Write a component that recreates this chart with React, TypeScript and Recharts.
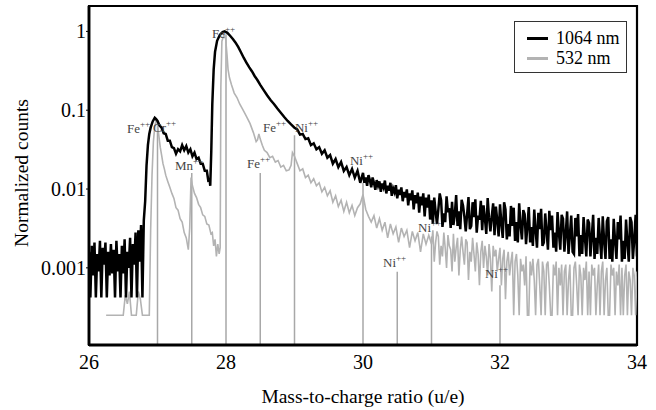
import React from 'react';
import { LineChart, Line, XAxis, YAxis, Legend, ReferenceArea } from 'recharts';

const FONT = "'Liberation Serif', serif";
const fontStyle = { fontFamily: FONT };

const massTicks = [26, 28, 30, 32, 34];
const countTicks = [0.001, 0.01, 0.1, 1];
const countTickLabels = ['0.001', '0.01', '0.1', '1'];
const yMin = 1.05e-4;
const yMax = 2.1;

const spectrum1064: [number, number][] = [
  [26.00,0.0016],[26.02,0.00042],[26.04,0.0019],[26.06,0.0008],[26.08,0.0021],[26.10,0.00042],
  [26.12,0.0015],[26.14,0.0009],[26.16,0.0022],[26.18,0.00042],[26.20,0.0018],[26.22,0.0011],
  [26.24,0.0021],[26.26,0.00042],[26.28,0.0016],[26.30,0.0008],[26.32,0.0020],[26.34,0.00085],
  [26.36,0.0017],[26.38,0.00042],[26.40,0.0022],[26.42,0.0009],[26.44,0.0015],[26.46,0.00042],
  [26.48,0.0019],[26.50,0.00085],[26.52,0.0023],[26.54,0.00042],[26.56,0.0016],[26.58,0.0010],
  [26.60,0.0024],[26.62,0.00042],[26.64,0.0020],[26.66,0.0011],[26.68,0.0028],[26.70,0.00042],
  [26.72,0.0030],[26.74,0.0012],[26.76,0.0035],[26.78,0.00042],[26.80,0.0040],
  [26.82,0.007],[26.84,0.02],[26.86,0.036],[26.88,0.05],[26.90,0.06],[26.93,0.072],[26.96,0.08],
  [26.98,0.077],[27.00,0.073],[27.03,0.064],[27.06,0.06],[27.09,0.051],[27.12,0.05],[27.15,0.041],
  [27.18,0.041],[27.21,0.034],[27.24,0.033],[27.27,0.028],[27.30,0.032],[27.33,0.03],[27.36,0.036],
  [27.39,0.031],[27.42,0.035],[27.45,0.029],[27.48,0.032],[27.51,0.026],[27.54,0.029],[27.57,0.024],
  [27.60,0.025],[27.63,0.021],[27.66,0.021],[27.69,0.017],[27.72,0.017],[27.74,0.013],[27.76,0.0135],
  [27.77,0.011],[27.785,0.03],[27.80,0.12],[27.82,0.33],[27.84,0.55],[27.87,0.76],[27.91,0.9],
  [27.95,0.98],[27.98,1.0],[28.02,0.96],[28.06,0.88],[28.10,0.8],[28.14,0.72],[28.18,0.63],
  [28.22,0.54],[28.26,0.46],[28.30,0.4],[28.34,0.35],[28.38,0.31],[28.42,0.27],[28.46,0.24],
  [28.50,0.21],[28.55,0.18],[28.60,0.155],[28.65,0.135],[28.70,0.12],[28.75,0.105],[28.80,0.093],
  [28.85,0.082],[28.90,0.073],[28.95,0.066],[29.00,0.06],
  [29.04,0.057],[29.08,0.049],[29.12,0.05],[29.16,0.043],[29.20,0.044],[29.24,0.036],[29.28,0.038],
  [29.32,0.032],[29.36,0.034],[29.40,0.028],[29.44,0.031],[29.48,0.025],[29.52,0.027],[29.56,0.021],
  [29.60,0.024],[29.64,0.019],[29.68,0.022],[29.72,0.017],[29.76,0.019],[29.80,0.015],[29.84,0.018],
  [29.88,0.014],[29.92,0.017],[29.96,0.012],
  [30.00,0.016],[30.02,0.012],[30.04,0.014],[30.06,0.011],[30.08,0.015],[30.10,0.013],[30.12,0.0105],
  [30.14,0.014],[30.16,0.012],[30.18,0.0098],[30.20,0.013],[30.22,0.011],[30.24,0.0125],[30.26,0.0092],
  [30.28,0.0118],[30.30,0.0105],[30.32,0.0128],[30.34,0.0088],[30.36,0.011],[30.38,0.0095],[30.40,0.012],
  [30.42,0.0082],[30.44,0.0102],[30.46,0.0091],[30.48,0.0112],[30.50,0.0076],[30.52,0.0098],[30.54,0.0084],
  [30.56,0.0105],[30.58,0.007],[30.60,0.0092],[30.62,0.0078],[30.64,0.0099],[30.66,0.0062],[30.68,0.0088],
  [30.70,0.0072],[30.72,0.0096],[30.74,0.0055],[30.76,0.0084],[30.78,0.0066],[30.80,0.009],[30.82,0.005],
  [30.84,0.008],[30.86,0.0062],[30.88,0.0088],[30.90,0.0045],[30.92,0.0078],[30.94,0.0058],[30.96,0.0085],
  [30.98,0.0041],[31.00,0.0072],
  [31.02,0.0036],[31.04,0.0078],[31.06,0.0052],[31.08,0.0036],[31.10,0.0055],[31.12,0.0088],[31.14,0.0072],
  [31.16,0.0033],[31.18,0.0049],[31.20,0.0038],[31.22,0.0081],[31.24,0.0051],[31.26,0.0057],[31.28,0.0032],
  [31.30,0.0069],[31.32,0.0035],[31.34,0.0047],[31.36,0.0084],[31.38,0.0034],[31.40,0.0052],[31.42,0.0031],
  [31.44,0.0073],[31.46,0.0062],[31.48,0.0045],[31.50,0.0029],[31.52,0.0048],[31.54,0.0079],[31.56,0.0031],
  [31.58,0.0034],[31.60,0.0068],[31.62,0.0044],[31.64,0.0074],[31.66,0.0028],[31.68,0.0046],[31.70,0.0041],
  [31.72,0.0071],[31.74,0.003],[31.76,0.0062],[31.78,0.0042],[31.80,0.0027],[31.82,0.0077],[31.84,0.0043],
  [31.86,0.0029],[31.88,0.0045],[31.90,0.0066],[31.92,0.0026],[31.94,0.006],[31.96,0.004],[31.98,0.0025],
  [32.00,0.0064],[32.02,0.0037],[32.04,0.0024],[32.06,0.0068],[32.08,0.0055],[32.10,0.0023],[32.12,0.0036],
  [32.14,0.0025],[32.16,0.0061],[32.18,0.0034],[32.20,0.0058],[32.22,0.0022],[32.24,0.0038],[32.26,0.0021],
  [32.28,0.0066],[32.30,0.0035],[32.32,0.0023],[32.34,0.0054],[32.36,0.0048],[32.38,0.002],[32.40,0.0034],
  [32.42,0.0059],[32.44,0.0021],[32.46,0.0033],[32.48,0.0019],[32.50,0.0055],[32.52,0.003],[32.54,0.0018],
  [32.56,0.005],[32.58,0.0031],[32.60,0.0056],[32.62,0.0019],[32.64,0.0021],[32.66,0.0049],[32.68,0.0029],
  [32.70,0.0017],[32.72,0.0053],[32.74,0.003],[32.76,0.0046],[32.78,0.0018],[32.80,0.0028],[32.82,0.0016],
  [32.84,0.0051],[32.86,0.0028],[32.88,0.0017],[32.90,0.0047],[32.92,0.0042],[32.94,0.0016],[32.96,0.0027],
  [32.98,0.0052],[33.00,0.0015],[33.02,0.0026],[33.04,0.0046],[33.06,0.0016],[33.08,0.0015],[33.10,0.0043],
  [33.12,0.0025],[33.14,0.0048],[33.16,0.0014],[33.18,0.0026],[33.20,0.0015],[33.22,0.0044],[33.24,0.0024],
  [33.26,0.0014],[33.28,0.0041],[33.30,0.0037],[33.32,0.0014],[33.34,0.0025],[33.36,0.0047],[33.38,0.0013],
  [33.40,0.0024],[33.42,0.0015],[33.44,0.0043],[33.46,0.0023],[33.48,0.0013],[33.50,0.0045],[33.52,0.0022],
  [33.54,0.0013],[33.56,0.0039],[33.58,0.0044],[33.60,0.0013],[33.62,0.0023],[33.64,0.0012],[33.66,0.0042],
  [33.68,0.0022],[33.70,0.0013],[33.72,0.0038],[33.74,0.0023],[33.76,0.0046],[33.78,0.0012],[33.80,0.0022],
  [33.82,0.0013],[33.84,0.0041],[33.86,0.0021],[33.88,0.0012],[33.90,0.0044],[33.92,0.0038],[33.94,0.0013],
  [33.96,0.0023],[33.98,0.0047],[34.00,0.0014],
];

const spectrum532: [number, number][] = [
  [26.25,0.00025],[26.50,0.00025],[26.53,0.00045],[26.56,0.00035],[26.59,0.0005],[26.62,0.00025],
  [26.69,0.00025],[26.72,0.0005],[26.75,0.0004],[26.78,0.00025],[26.88,0.00025],[26.90,0.003],
  [26.92,0.015],[26.94,0.04],[26.96,0.062],[26.98,0.075],[27.00,0.068],[27.02,0.047],[27.04,0.034],
  [27.06,0.027],[27.08,0.021],[27.10,0.018],[27.12,0.015],[27.15,0.0125],[27.18,0.0105],[27.21,0.0088],
  [27.24,0.0076],[27.27,0.0058],[27.30,0.0054],[27.33,0.0042],[27.36,0.0038],[27.39,0.0028],[27.42,0.0024],
  [27.45,0.0017],[27.47,0.0032],[27.49,0.014],[27.51,0.011],[27.54,0.0088],[27.57,0.0078],[27.60,0.0064],
  [27.63,0.0058],[27.66,0.0047],[27.69,0.0045],[27.72,0.0036],[27.75,0.0035],[27.78,0.0027],[27.80,0.0028],
  [27.82,0.0019],[27.84,0.0023],[27.86,0.0014],[27.88,0.002],[27.90,0.0015],[27.915,0.0018],[27.925,0.2],
  [27.94,0.75],[27.97,0.9],[27.995,0.8],[28.015,0.5],[28.03,0.33],[28.05,0.26],[28.08,0.21],[28.12,0.165],
  [28.16,0.145],[28.20,0.12],[28.25,0.1],[28.30,0.083],[28.35,0.068],[28.40,0.052],[28.44,0.04],
  [28.46,0.042],[28.48,0.05],[28.50,0.043],[28.53,0.036],[28.56,0.031],[28.60,0.029],[28.64,0.025],
  [28.68,0.026],[28.72,0.022],[28.76,0.023],[28.80,0.019],[28.84,0.02],[28.88,0.017],[28.92,0.0175],
  [28.95,0.02],[28.97,0.029],[29.00,0.026],
  [29.04,0.021],[29.08,0.017],[29.12,0.018],[29.16,0.014],[29.20,0.015],[29.24,0.012],[29.28,0.0135],
  [29.32,0.011],[29.36,0.012],[29.40,0.0092],[29.44,0.0105],[29.48,0.0082],[29.52,0.0095],[29.56,0.0068],
  [29.60,0.0082],[29.64,0.006],[29.68,0.0072],[29.72,0.0052],[29.76,0.0068],[29.80,0.005],[29.84,0.0062],
  [29.88,0.0046],[29.92,0.0058],[29.96,0.0065],[30.00,0.0085],[30.04,0.0055],[30.08,0.0045],[30.12,0.0038],
  [30.16,0.0046],[30.20,0.0032],[30.24,0.0042],[30.28,0.003],[30.32,0.0038],[30.36,0.0024],[30.40,0.0036],
  [30.44,0.0027],[30.48,0.0033],[30.52,0.0021],[30.56,0.0032],[30.60,0.0025],[30.64,0.003],[30.68,0.0018],
  [30.72,0.0029],[30.76,0.0022],[30.80,0.0028],[30.84,0.0016],[30.88,0.0027],[30.92,0.002],[30.96,0.0026],
  [31.00,0.002],[31.02,0.003],[31.04,0.0012],[31.06,0.0021],[31.08,0.0029],[31.10,0.0025],[31.12,0.0011],
  [31.14,0.0019],[31.16,0.0014],[31.18,0.0028],[31.20,0.0018],[31.22,0.001],[31.24,0.0026],[31.26,0.0019],
  [31.28,0.0017],[31.30,0.0009],[31.32,0.0027],[31.34,0.0012],[31.36,0.0018],[31.38,0.0024],[31.40,0.0008],
  [31.42,0.0017],[31.44,0.0025],[31.46,0.0016],[31.48,0.0011],[31.50,0.0023],[31.52,0.0021],[31.54,0.0007],
  [31.56,0.0016],[31.58,0.0012],[31.60,0.0024],[31.62,0.0015],[31.64,0.0009],[31.66,0.0021],[31.68,0.0015],
  [31.70,0.0006],[31.72,0.0016],[31.74,0.0022],[31.76,0.001],[31.78,0.0019],[31.80,0.0014],[31.82,0.0008],
  [31.84,0.002],[31.86,0.0013],[31.88,0.0005],[31.90,0.0019],[31.92,0.0014],[31.94,0.0017],[31.96,0.0009],
  [31.98,0.0013],[32.00,0.0018],[32.02,0.0006],[32.04,0.0013],[32.06,0.0017],[32.08,0.0004],[32.10,0.0012],
  [32.12,0.0016],[32.14,0.0008],[32.16,0.0012],[32.18,0.0016],[32.20,0.00025],
  [32.22,0.0012],[32.24,0.0015],[32.26,0.0008],[32.28,0.00025],[32.30,0.0013],[32.32,0.0009],[32.34,0.0011],
  [32.36,0.0006],[32.38,0.0014],[32.40,0.00025],[32.42,0.00025],[32.44,0.0012],[32.46,0.0008],[32.48,0.0013],
  [32.50,0.0007],[32.52,0.00025],[32.54,0.0011],[32.56,0.0013],[32.58,0.0006],[32.60,0.00025],[32.62,0.0012],
  [32.64,0.0009],[32.66,0.00025],[32.68,0.0011],[32.70,0.0012],[32.72,0.0006],[32.74,0.00025],[32.76,0.00025],
  [32.78,0.0011],[32.80,0.0008],[32.82,0.0012],[32.84,0.00025],[32.86,0.001],[32.88,0.0006],[32.90,0.0011],
  [32.92,0.00025],[32.94,0.0009],[32.96,0.0011],[32.98,0.00025],[33.00,0.0007],[33.02,0.0011],[33.04,0.00025],
  [33.06,0.00025],[33.08,0.001],[33.10,0.0012],[33.12,0.0006],[33.14,0.00025],[33.16,0.0011],[33.18,0.0008],
  [33.20,0.00025],[33.22,0.001],[33.24,0.0007],[33.26,0.0012],[33.28,0.00025],[33.30,0.0009],[33.32,0.00025],
  [33.34,0.0011],[33.36,0.0008],[33.38,0.001],[33.40,0.00025],[33.42,0.0006],[33.44,0.0011],[33.46,0.00025],
  [33.48,0.0009],[33.50,0.0012],[33.52,0.00025],[33.54,0.0007],[33.56,0.001],[33.58,0.00025],[33.60,0.00025],
  [33.62,0.0011],[33.64,0.0008],[33.66,0.001],[33.68,0.00025],[33.70,0.0009],[33.72,0.0006],[33.74,0.0011],
  [33.76,0.00025],[33.78,0.001],[33.80,0.00025],[33.82,0.0008],[33.84,0.0011],[33.86,0.00025],[33.88,0.0009],
  [33.90,0.0007],[33.92,0.00025],[33.94,0.001],[33.96,0.0008],[33.98,0.00025],[34.00,0.0009],
];

const lineMasses = [27, 27.5, 28, 28.5, 29, 30, 30.5, 31, 32];
const lineTops = [0.075, 0.016, 0.92, 0.016, 0.048, 0.012, 0.00089, 0.0025, 0.0006];

const ionNames = ['Fe', 'Fe', 'Cr', 'Mn', 'Fe', 'Ni', 'Fe', 'Ni', 'Ni', 'Ni', 'Ni'];
const ionMass = [27.796, 26.555, 26.934, 27.255, 28.54, 29.007, 28.307, 29.81, 30.803, 30.292, 31.781];
const ionCount = [0.824, 0.0514, 0.0529, 0.0174, 0.0529, 0.0529, 0.01846, 0.0202, 0.00285, 0.00102, 0.000743];

const seriesNames = ['1064 nm', '532 nm'];
const seriesColors = ['#000000', '#b3b3b3'];

const blackData = spectrum1064.map(([x, y]) => ({ x, y }));
const grayData = spectrum532.map(([x, y]) => ({ x, y }));
const stickData: { x: number; y: number | null }[] = [];
lineMasses.forEach((m, i) => {
  stickData.push({ x: m, y: yMin });
  stickData.push({ x: m, y: lineTops[i] });
  stickData.push({ x: m, y: null });
});
const labelData = ionNames.map((n, i) => ({ x: ionMass[i], y: ionCount[i], name: n }));

const IonLabel = (props: any) => {
  const { cx, cy, payload, index } = props;
  if (cx == null || cy == null) return <g key={`l${index}`} />;
  return (
    <text key={`l${index}`} x={cx} y={cy} style={fontStyle} fontSize={13} fill="#444">
      {payload.name}
      <tspan fontSize={9} dy={-6}>++</tspan>
    </text>
  );
};

const XTick = (props: any) => {
  const { x, y, payload } = props;
  return (
    <text x={x} y={y} dy="0.71em" textAnchor="middle" style={fontStyle} fontSize={20} fill="#000">
      {payload.value}
    </text>
  );
};

const YTick = (props: any) => {
  const { x, y, payload } = props;
  const i = countTicks.indexOf(payload.value);
  return (
    <text x={x} y={y} dy="0.355em" textAnchor="end" style={fontStyle} fontSize={20} fill="#000">
      {i >= 0 ? countTickLabels[i] : ''}
    </text>
  );
};

const LegendBox = () => (
  <div
    style={{
      width: 113,
      height: 52,
      border: '1px solid #333',
      boxSizing: 'border-box',
      background: '#fff',
      position: 'relative',
      fontFamily: FONT,
    }}
  >
    {seriesNames.map((n, i) => (
      <div key={n} style={{ position: 'absolute', left: 0, top: 6 + i * 20, height: 20, width: '100%' }}>
        <div
          style={{
            position: 'absolute',
            left: 12,
            top: 9,
            width: 21,
            height: 3,
            background: seriesColors[i],
          }}
        />
        <div
          style={{
            position: 'absolute',
            left: 41,
            top: 0,
            lineHeight: '20px',
            fontSize: 18,
            color: '#000',
            whiteSpace: 'nowrap',
            fontFamily: FONT,
          }}
        >
          {n}
        </div>
      </div>
    ))}
  </div>
);

const YTitle = () => (
  <text
    x={28}
    y={173}
    transform="rotate(-90 28 173)"
    textAnchor="middle"
    style={fontStyle}
    fontSize={19.5}
    fill="#000"
  >
    Normalized counts
  </text>
);

const XTitle = () => (
  <text x={363} y={403} textAnchor="middle" style={fontStyle} fontSize={19.5} fill="#000">
    Mass-to-charge ratio (u/e)
  </text>
);

export default function App() {
  return (
    <div style={{ position: 'absolute', left: 0, top: 0, width: 656, height: 410, background: '#fff', fontFamily: FONT }}>
      <LineChart width={656} height={410} margin={{ top: 6, right: 19, bottom: 0, left: 0 }}>
        <XAxis
          dataKey="x"
          type="number"
          domain={[26, 34]}
          ticks={massTicks}
          allowDataOverflow
          height={65}
          tickLine={false}
          tickSize={0}
          tickMargin={10}
          axisLine={{ stroke: '#000', strokeWidth: 2.8 }}
          tick={XTick}
          label={() => <XTitle />}
        />
        <YAxis
          dataKey="y"
          scale="log"
          domain={[yMin, yMax]}
          ticks={countTicks}
          allowDataOverflow
          width={89}
          tickSize={3}
          tickMargin={0}
          tickLine={{ stroke: '#000' }}
          axisLine={{ stroke: '#000', strokeWidth: 2.8 }}
          tick={YTick}
          label={() => <YTitle />}
        />
        <ReferenceArea
          x1={26}
          x2={34}
          y1={yMin}
          y2={yMax}
          fill="none"
          fillOpacity={0}
          stroke="#000"
          strokeWidth={2.2}
        />
        <Line
          data={labelData}
          dataKey="y"
          stroke="none"
          legendType="none"
          isAnimationActive={false}
          dot={IonLabel}
          activeDot={false}
        />
        <Line
          data={stickData}
          dataKey="y"
          stroke="#a8a8a8"
          strokeWidth={1.5}
          dot={false}
          activeDot={false}
          legendType="none"
          isAnimationActive={false}
        />
        <Line
          data={grayData}
          dataKey="y"
          name={seriesNames[1]}
          stroke={seriesColors[1]}
          strokeWidth={1.6}
          dot={false}
          activeDot={false}
          isAnimationActive={false}
        />
        <Line
          data={blackData}
          dataKey="y"
          name={seriesNames[0]}
          stroke={seriesColors[0]}
          strokeWidth={2.5}
          dot={false}
          activeDot={false}
          isAnimationActive={false}
        />
        <Legend
          layout="vertical"
          align="center"
          verticalAlign="middle"
          wrapperStyle={{ position: 'absolute', left: 514, top: 21, width: 113, height: 52 }}
          content={() => <LegendBox />}
        />
      </LineChart>
    </div>
  );
}
